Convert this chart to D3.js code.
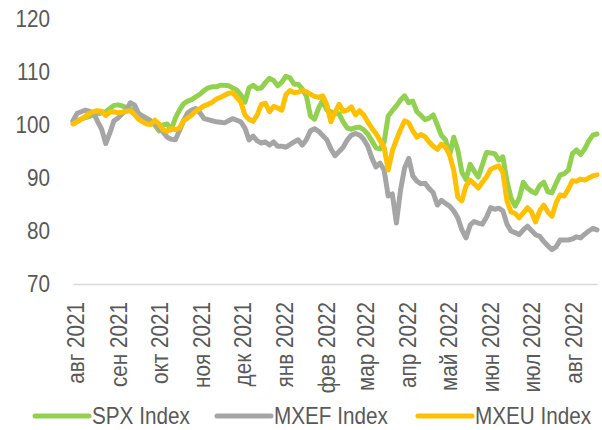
<!DOCTYPE html>
<html>
<head>
<meta charset="utf-8">
<script src="https://cdn.jsdelivr.net/npm/d3@7"></script>
<style>
  body { margin: 0; background: #fff; }
  svg { display: block; font-family: 'Liberation Sans', Arial, sans-serif; }
</style>
</head>
<body>
<svg></svg>
<script>
const width = 602
const height = 430
const labelFont = "'Liberation Sans', Arial, sans-serif"
const labelSize = '23px'
// the original labels are set in a narrow face, squeeze them a bit
const squeeze = 0.9

// one reading every 3 days, starting 30 Jul 2021
const startDate = new Date(2021, 6, 30)
const stepDays = 3

const monthLabels = ['авг 2021', 'сен 2021', 'окт 2021', 'ноя 2021', 'дек 2021', 'янв 2022',
  'фев 2022', 'мар 2022', 'апр 2022', 'май 2022', 'июн 2022', 'июл 2022', 'авг 2022']
const yTicks = [70, 80, 90, 100, 110, 120]

const spx = [
  100.6, 100.8, 101.1, 101.4, 101.6, 101.9, 102.1, 102.3, 102.5, 103.1,
  103.7, 103.8, 103.6, 103.3, 103.1, 102.5, 102.1, 101.7, 101.3, 100.8,
  100.0, 98.9, 100.0, 100.2, 99.1, 101.3, 102.8, 104.0, 104.5, 104.8,
  105.3, 105.8, 106.5, 107.0, 107.2, 107.2, 107.5, 107.5, 107.4, 107.0,
  106.6, 105.7, 104.3, 107.0, 107.5, 106.9, 107.0, 108.0, 108.8, 108.4,
  107.4, 108.1, 109.2, 108.9, 107.7, 107.7, 106.8, 105.5, 101.7, 101.1,
  103.2, 104.7, 102.8, 102.5, 102.1, 102.1, 100.6, 99.4, 99.2, 99.5,
  99.6, 99.1, 98.3, 97.0, 95.7, 95.5, 96.8, 101.7, 102.7, 103.6,
  104.7, 105.5, 104.2, 104.5, 102.5, 101.8, 101.0, 101.3, 101.9, 100.0,
  98.0, 97.2, 94.3, 97.7, 95.3, 91.1, 89.7, 92.6, 91.3, 90.2,
  92.5, 94.8, 94.7, 94.6, 93.4, 94.0, 89.4, 86.2, 84.7, 86.2,
  89.2, 88.1, 87.5, 87.1, 88.6, 89.2, 87.4, 87.2, 89.0, 90.6,
  90.8, 91.5, 94.6, 95.3, 94.4, 95.5, 97.0, 98.1, 98.3
]

const mxef = [
  100.8, 102.2, 102.5, 102.8, 102.6, 102.3, 100.7, 99.2, 96.5, 98.5,
  100.8, 101.3, 102.1, 102.8, 104.2, 103.8, 102.2, 101.6, 101.1, 100.8,
  100.2, 99.4, 98.7, 97.7, 97.3, 97.2, 98.9, 100.8, 102.3, 102.8,
  103.1, 102.3, 101.2, 101.0, 100.8, 100.6, 100.5, 100.4, 100.8, 101.2,
  100.9, 100.6, 99.4, 97.2, 97.9, 97.0, 96.6, 96.8, 96.2, 96.8,
  96.0, 96.0, 95.8, 96.3, 96.8, 97.2, 96.2, 97.2, 98.9, 99.3,
  98.8, 98.0, 97.2, 95.5, 94.2, 95.0, 95.8, 97.2, 98.1, 98.4,
  98.1, 97.3, 96.0, 93.8, 92.1, 92.8, 91.5, 86.6, 87.0, 81.5,
  87.7, 91.9, 93.7, 90.4, 89.4, 88.9, 89.0, 88.0, 87.2, 84.9,
  85.8, 85.2, 84.7, 83.8, 82.5, 80.2, 78.7, 81.1, 81.8, 81.5,
  81.3, 82.6, 84.4, 84.1, 84.3, 83.8, 81.3, 80.0, 79.7, 79.3,
  80.2, 80.9, 80.1, 79.3, 79.0, 78.0, 77.2, 76.5, 77.0, 78.3,
  78.3, 78.3, 78.5, 78.9, 78.7, 79.4, 80.0, 80.5, 80.2
]

const mxeu = [
  100.2, 100.6, 101.1, 101.6, 102.2, 102.5, 102.7, 102.6, 101.8, 102.4,
  102.5, 102.3, 102.4, 102.6, 102.7, 102.0, 101.1, 100.6, 100.2, 100.1,
  100.9, 100.2, 99.1, 98.8, 99.4, 99.1, 99.4, 100.8, 101.3, 101.9,
  102.6, 103.1, 103.6, 103.9, 104.3, 104.9, 105.2, 105.6, 106.0, 106.1,
  105.2, 104.3, 101.9, 101.1, 100.7, 101.9, 103.9, 104.1, 102.5, 103.5,
  103.2, 102.8, 105.7, 106.5, 106.1, 106.2, 106.5, 106.3, 105.8, 105.4,
  105.2, 105.5, 103.8, 100.6, 102.4, 103.9, 102.6, 102.8, 103.4, 101.9,
  102.7, 101.9, 100.6, 99.4, 98.4, 97.1, 95.8, 91.5, 95.1, 97.2,
  99.1, 100.8, 100.4, 98.9, 97.7, 98.2, 97.8, 96.8, 96.0, 95.4,
  96.4, 95.8, 94.3, 91.5, 86.4, 85.7, 88.5, 89.6, 88.9, 88.1,
  89.2, 90.2, 91.6, 92.0, 92.3, 91.1, 85.7, 83.6, 83.3, 82.5,
  83.4, 84.4, 83.6, 81.7, 83.8, 84.9, 83.6, 82.8, 85.3, 86.8,
  86.6, 87.9, 89.5, 89.4, 89.8, 89.6, 90.0, 90.4, 90.6
]

const seriesNames = ['SPX Index', 'MXEF Index', 'MXEU Index']
const seriesColors = ['#92d050', '#a5a5a5', '#ffc000']
const seriesValues = [spx, mxef, mxeu]

const dates = spx.map((d, i) => d3.timeDay.offset(startDate, i * stepDays))
const monthDates = d3.timeMonth.range(new Date(2021, 7, 1), new Date(2022, 8, 1))

const svg = d3.select('svg').attr('width', width).attr('height', height)

const x = d3.scaleTime().domain([dates[0], dates[dates.length - 1]]).range([73, 597])
const y = d3.scaleLinear().domain([70, 120]).range([284, 19])

// y labels
const yAxis = svg
  .append('g')
  .attr('transform', 'translate(73,0)')
  .call(d3.axisLeft(y).tickValues(yTicks).tickSize(0))
yAxis.select('.domain').remove()
yAxis
  .selectAll('text')
  .attr('x', -23 / squeeze)
  .attr('transform', `scale(${squeeze},1)`)
  .style('font-size', labelSize)
  .style('fill', '#595959')
  .style('font-family', labelFont)

// x axis, month labels turned upright
const xAxis = svg
  .append('g')
  .attr('transform', 'translate(0,284)')
  .call(
    d3
      .axisBottom(x)
      .tickValues(monthDates)
      .tickFormat((d, i) => monthLabels[i])
      .tickSize(0)
      .tickSizeOuter(0)
  )
xAxis.select('.domain').attr('stroke', '#d9d9d9').attr('stroke-width', 1.5)
xAxis
  .selectAll('text')
  .attr('transform', `rotate(-90) scale(${squeeze},1)`)
  .attr('text-anchor', 'end')
  .attr('x', -18 / squeeze)
  .attr('y', 0)
  .attr('dy', '0.35em')
  .style('font-size', labelSize)
  .style('fill', '#595959')
  .style('font-family', labelFont)

const line = d3
  .line()
  .x((d, i) => x(dates[i]))
  .y((d) => y(d))

svg
  .append('g')
  .selectAll('path')
  .data(seriesValues)
  .enter()
  .append('path')
  .attr('d', line)
  .attr('fill', 'none')
  .attr('stroke', (d, i) => seriesColors[i])
  .attr('stroke-width', 5)
  .attr('stroke-linejoin', 'round')
  .attr('stroke-linecap', 'round')

// legend
const legendX = [35, 217, 418]
const legend = svg
  .append('g')
  .selectAll('g')
  .data(seriesNames)
  .enter()
  .append('g')
  .attr('transform', (d, i) => `translate(${legendX[i]},416)`)
legend
  .append('line')
  .attr('x1', 0)
  .attr('x2', 54)
  .attr('stroke', (d, i) => seriesColors[i])
  .attr('stroke-width', 5)
  .attr('stroke-linecap', 'round')
legend
  .append('text')
  .attr('transform', `translate(57,0) scale(${squeeze},1)`)
  .attr('dy', '0.35em')
  .text((d) => d)
  .style('font-size', labelSize)
  .style('fill', '#595959')
  .style('font-family', labelFont)
</script>
</body>
</html>
